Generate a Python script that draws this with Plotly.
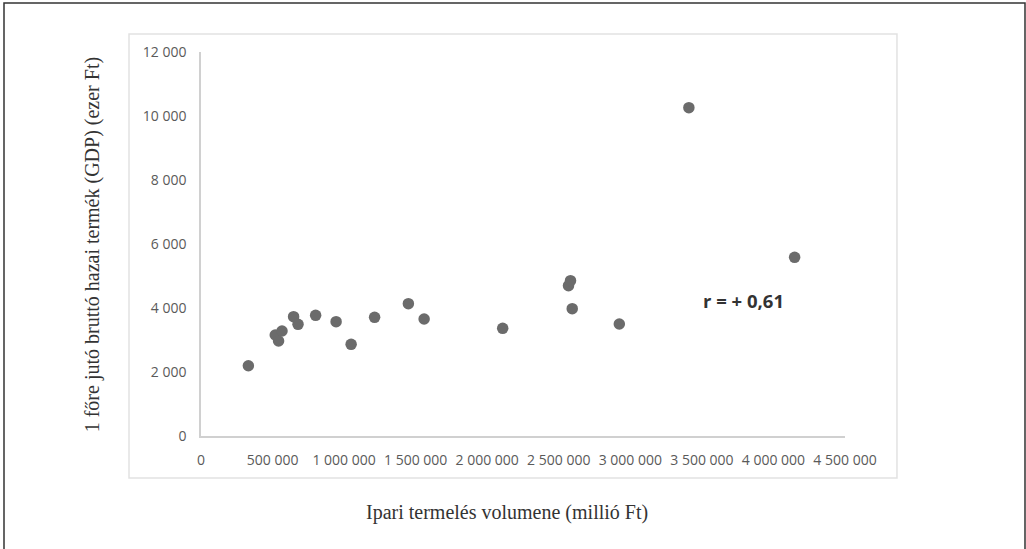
import plotly.graph_objects as go

# Data
ipari_termeles = [331000, 519000, 542000, 566000, 647000, 678000, 801000, 944000,
                  1049000, 1213000, 1449000, 1559000, 2108000, 2568000, 2582000,
                  2594000, 2923000, 3409000, 4148000]
gdp_per_fo = [2197, 3156, 2969, 3281, 3729, 3490, 3771, 3573, 2865, 3708, 4135,
              3656, 3365, 4698, 4854, 3979, 3500, 10260, 5584]

x_ticks = [0, 500000, 1000000, 1500000, 2000000, 2500000, 3000000, 3500000, 4000000, 4500000]
y_ticks = [0, 2000, 4000, 6000, 8000, 10000, 12000]

x_title = "Ipari termelés volumene (millió Ft)"
y_title = "1 főre jutó bruttó hazai termék (GDP) (ezer Ft)"
r_text = "r = + 0,61"
r_pos = (3789000, 4228)

fig = go.Figure()
fig.add_trace(go.Scatter(
    x=ipari_termeles, y=gdp_per_fo, mode="markers",
    marker=dict(color="#6b6b6b", size=11.5),
    showlegend=False, hoverinfo="x+y",
))

tick_font = dict(family="Open Sans", size=14, color="#5a5a5a")

fig.update_layout(
    width=1026, height=549,
    margin=dict(l=201, r=181, t=52, b=113),
    paper_bgcolor="white", plot_bgcolor="white",
    separators=", ",
    xaxis=dict(range=[0, 4500000], tickvals=x_ticks, tickformat=",d",
               showgrid=False, zeroline=False, showline=True,
               linecolor="#d0d0d0", linewidth=1.5, ticks="",
               tickfont=tick_font, ticklabelstandoff=10),
    yaxis=dict(range=[0, 12000], tickvals=y_ticks, tickformat=",d",
               showgrid=False, zeroline=False, showline=True,
               linecolor="#d0d0d0", linewidth=1.5, ticks="",
               tickfont=tick_font, ticklabelstandoff=10),
)

fig.add_annotation(x=r_pos[0], y=r_pos[1], xref="x", yref="y", text="<b>" + r_text + "</b>",
                   showarrow=False, xanchor="center", yanchor="middle",
                   font=dict(family="Open Sans", size=18.5, color="#333333"))
fig.add_annotation(x=0.475, y=-0.2005, xref="paper", yref="paper", text=x_title,
                   showarrow=False, xanchor="center", yanchor="middle",
                   font=dict(family="Liberation Serif", size=20, color="#333333"))
fig.add_annotation(x=-0.169, y=0.497, xref="paper", yref="paper", text=y_title,
                   showarrow=False, xanchor="center", yanchor="middle", textangle=-90,
                   font=dict(family="Liberation Serif", size=20, color="#333333"))

# inner light chart-area box
fig.add_shape(type="rect", xref="paper", yref="paper",
              x0=-0.1118, x1=1.0807, y0=-0.1094, y1=1.0469,
              line=dict(color="#e2e2e2", width=1.5), layer="below")
# outer dark frame
fig.add_shape(type="rect", xref="paper", yref="paper",
              x0=-0.3059, x1=1.2795, y0=-0.31, y1=1.1276,
              line=dict(color="#333333", width=1.5), layer="below")

fig.write_html("out.html", config={"displayModeBar": False},
               post_script="document.body.style.margin='0';document.body.style.overflow='hidden';")
